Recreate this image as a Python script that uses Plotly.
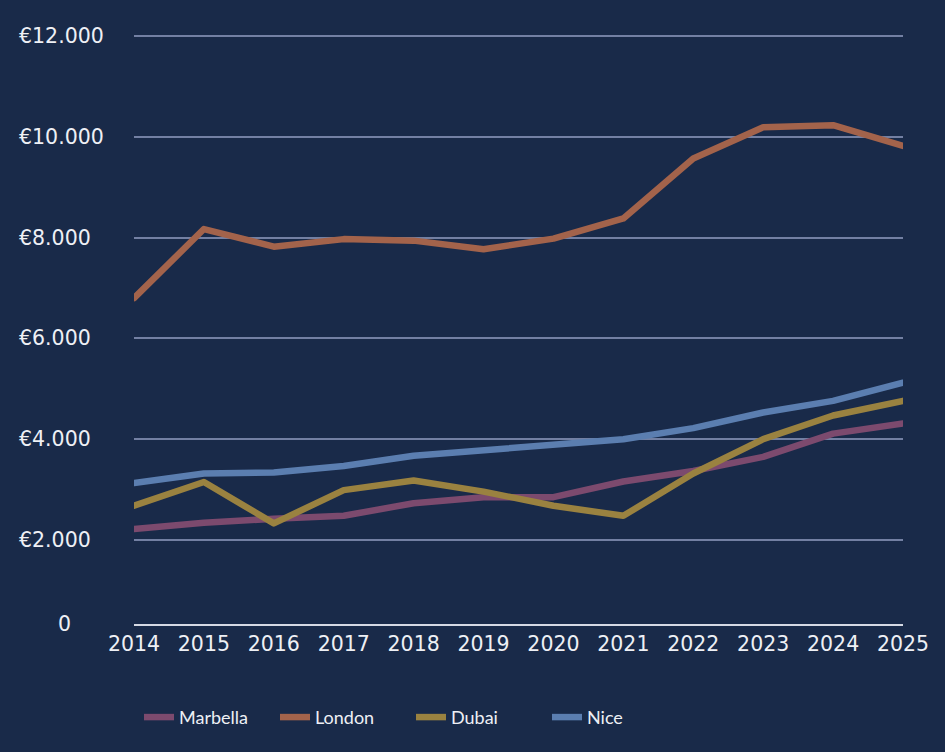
import plotly.graph_objects as go

years = [2014, 2015, 2016, 2017, 2018, 2019, 2020, 2021, 2022, 2023, 2024, 2025]
marbella = [2220, 2340, 2420, 2480, 2730, 2850, 2850, 3160, 3370, 3650, 4110, 4310]
london = [6800, 8170, 7820, 7970, 7940, 7770, 7980, 8380, 9570, 10190, 10230, 9820]
dubai = [2680, 3150, 2330, 2990, 3180, 2960, 2680, 2480, 3320, 4000, 4470, 4760]
nice = [3130, 3320, 3340, 3470, 3670, 3770, 3880, 4000, 4220, 4530, 4760, 5120]

series_names = ["Marbella", "London", "Dubai", "Nice"]
series_values = [marbella, london, dubai, nice]
colors = ["#7c4a6e", "#a3634b", "#9a8240", "#5b7eb0"]

y_ticks = [2000, 4000, 6000, 8000, 10000, 12000]
y_tick_labels = ["€2.000", "€4.000", "€6.000", "€8.000", "€10.000", "€12.000"]
y_min = 333
y_max = 12060

bg = "#192a49"
text_color = "#eef0f5"
num_font = "DejaVu Sans"

fig = go.Figure()
for name, vals, col in zip(series_names, series_values, colors):
    fig.add_trace(go.Scatter(
        x=years, y=vals, name=name, mode="lines",
        line=dict(color=col, width=6.5),
    ))

annotations = []
for v, t in zip(y_ticks, y_tick_labels):
    annotations.append(dict(
        x=(17 - 134) / 769, xref="paper", y=v, yref="y",
        text=t, showarrow=False, xanchor="left", yanchor="middle",
        font=dict(family=num_font, size=20.5, color=text_color),
    ))
annotations.append(dict(
    x=(64 - 134) / 769, xref="paper", y=y_min, yref="y",
    text="0", showarrow=False, xanchor="center", yanchor="middle",
    font=dict(family=num_font, size=20.5, color=text_color),
))

fig.update_layout(
    width=945, height=752,
    margin=dict(l=134, r=42, t=33, b=128),
    paper_bgcolor=bg, plot_bgcolor=bg,
    showlegend=True,
    legend=dict(
        orientation="h", x=5 / 769, xanchor="left", y=-0.158, yanchor="middle",
        entrywidth=91, entrywidthmode="pixels",
        font=dict(family="Lato", size=18, color=text_color),
        bgcolor="rgba(0,0,0,0)",
    ),
    xaxis=dict(
        range=[2014, 2025], tickvals=years, ticktext=[str(y) for y in years],
        showgrid=False, zeroline=False, showline=True, linecolor="#d5d9e4", linewidth=2,
        ticks="", ticklabelstandoff=0,
        tickfont=dict(family=num_font, size=20.5, color=text_color),
    ),
    yaxis=dict(
        range=[y_min, y_max], tickvals=y_ticks, showticklabels=False,
        showgrid=True, gridcolor="#7380a3", gridwidth=1.5, zeroline=False, ticks="",
    ),
    annotations=annotations,
)

post = (
    "document.body.style.margin='0';document.body.style.overflow='hidden';"
    "var st=document.createElement('style');"
    "st.textContent='.scatterlayer .js-line{stroke-linecap:round;stroke-linejoin:round;}';"
    "document.head.appendChild(st);"
)
fig.write_html("out.html", post_script=post, config={"displayModeBar": False})
